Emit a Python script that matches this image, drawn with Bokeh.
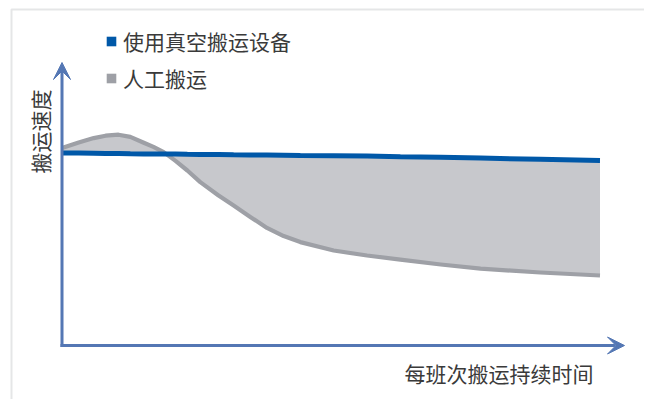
import math
from bokeh.plotting import figure
from bokeh.models import Range1d, Arrow, VeeHead, Label, Legend, LegendItem, BoxAnnotation
from bokeh.embed import file_html
from bokeh.resources import INLINE

# ---- data ----
time = [0, 0.31, 0.59, 0.81, 1.05, 1.27, 1.52, 1.70, 1.89, 2.11, 2.33, 2.57, 2.91,
        3.19, 3.50, 3.81, 4.12, 4.43, 5.05, 5.67, 6.29, 7.04, 7.78, 8.89, 10.0]
vacuum_speed = [9.62, 9.62, 9.61, 9.60, 9.60, 9.59, 9.58, 9.58, 9.57, 9.57, 9.56, 9.55, 9.55,
                9.54, 9.53, 9.52, 9.51, 9.50, 9.49, 9.47, 9.44, 9.41, 9.37, 9.31, 9.25]
manual_speed = [9.87, 10.15, 10.37, 10.49, 10.54, 10.43, 10.14, 9.93, 9.67, 9.23, 8.75, 8.17,
                7.50, 7.00, 6.43, 5.88, 5.47, 5.17, 4.75, 4.50, 4.29, 4.05, 3.84, 3.65, 3.50]
legend_labels = ["使用真空搬运设备", "人工搬运"]
x_axis_title = "每班次搬运持续时间"
y_axis_title = "搬运速度"

# ---- styling ----
FONT = "Noto Sans CJK SC"
TEXT_C = "#3a3a3a"
AXIS_C = "#5477b4"
BLUE = "#0058a8"
GRAY_LINE = "#9ea0a6"
GRAY_FILL = "#c7c8cc"
BORDER_C = "#a9abb1"

W, H = 644, 399
X0, XS = 61.5, 53.8   # canvas px of x=0, px per unit
Y0, YS = 345.0, 20.0  # canvas px (from top) of y=0, px per unit


def dx(px):
    return (px - X0) / XS


def dy(py):
    return (Y0 - py) / YS


p = figure(width=W, height=H, output_backend="svg", toolbar_location=None,
           min_border=0, x_axis_location=None, y_axis_location=None,
           x_range=Range1d(dx(0), dx(W)), y_range=Range1d(dy(H), dy(0)))
p.grid.visible = False
p.outline_line_color = None
p.background_fill_color = "white"

# outer frame
p.add_layout(BoxAnnotation(left=dx(11), right=dx(656), top=dy(9), bottom=dy(H + 60),
                           fill_alpha=0, line_color=BORDER_C, line_width=2))

# area between the curves and the curves
p.varea(x=time, y1=manual_speed, y2=vacuum_speed, fill_color=GRAY_FILL)
p.line(time, manual_speed, line_color=GRAY_LINE, line_width=4.2, line_join="round")
p.line(time, vacuum_speed, line_color=BLUE, line_width=5)

# axes with arrows
p.add_layout(Arrow(end=VeeHead(size=17, fill_color=AXIS_C, line_color=AXIS_C, line_width=1),
                   x_start=0, y_start=dy(Y0 + 1.5), x_end=0, y_end=dy(62),
                   line_color=AXIS_C, line_width=3))
p.add_layout(Arrow(end=VeeHead(size=17, fill_color=AXIS_C, line_color=AXIS_C, line_width=1),
                   x_start=dx(X0 - 1.5), y_start=0, x_end=dx(624), y_end=0,
                   line_color=AXIS_C, line_width=3))

# axis titles
p.add_layout(Label(x=dx(593), y=dy(372), text=x_axis_title, text_align="right",
                   text_baseline="middle", text_font=FONT, text_font_size="21px",
                   text_color=TEXT_C))
p.add_layout(Label(x=dx(39.5), y=dy(131), text=y_axis_title, angle=math.pi / 2,
                   text_align="center", text_baseline="middle", text_font=FONT,
                   text_font_size="21px", text_color=TEXT_C))

# legend (swatch renderers hold a single empty point so the legend draws them)
nan = float("nan")
r_blue = p.quad(left=[nan], right=[nan], top=[nan], bottom=[nan],
                fill_color=BLUE, line_color=None)
r_gray = p.quad(left=[nan], right=[nan], top=[nan], bottom=[nan],
                fill_color=GRAY_LINE, line_color=None)
legend = Legend(items=[LegendItem(label=legend_labels[0], renderers=[r_blue]),
                       LegendItem(label=legend_labels[1], renderers=[r_gray])],
                location=(105, 306), orientation="vertical",
                glyph_width=12, glyph_height=12, label_height=24, spacing=7,
                label_standoff=6, padding=0, margin=0,
                border_line_color=None, background_fill_alpha=0,
                label_text_font=FONT, label_text_font_size="21px",
                label_text_color=TEXT_C)
p.add_layout(legend)

open("out.html", "w").write(file_html(p, INLINE))
